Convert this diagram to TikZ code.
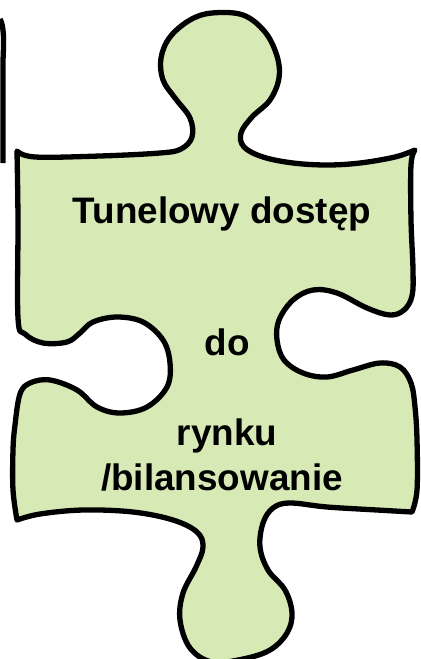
\documentclass[tikz,border=0pt]{standalone}
\usepackage{fontspec}
\setmainfont{Liberation Sans}
\definecolor{piecegreen}{RGB}{215,233,181}

\begin{document}
\begin{tikzpicture}[x=1bp, y=-1bp, line width=5.3bp, line join=round,
  piece/.style = {draw, fill=piecegreen},
  txt/.style = {anchor=base, inner sep=0pt, font=\bfseries\fontsize{37}{44}\selectfont}]
\useasboundingbox (0,0) rectangle (420,659);
% edge of the neighbouring piece
\draw (0,19) .. controls (4,26) and (4,40) .. (3,60) -- (3,163);
% the piece
\draw[piece] plot[smooth, tension=0.6] coordinates {(17,151) (35,157) (100,156) (160,153) (181,149)
    (192,137) (190,118) (175,98) (163,80) (161,58) (170,37) (190,20) (212,13) (243,15) (265,32)
    (277,56) (279,78) (270,100) (252,117) (241,133) (244,147) (263,157) (293,163) (327,165)
    (360,163) (395,157) (415,150)}
  -- plot[smooth, tension=0.6] coordinates {(415,150) (411,165) (411,220) (413,270) (412,296)
    (404,310) (390,315) (367,308) (337,293) (313,290) (293,300) (279,320) (277,340) (284,360)
    (303,373) (327,377) (353,370) (380,363) (400,367) (411,383) (415,407) (417,440) (417,490)
    (412,512)}
  -- plot[smooth, tension=0.6] coordinates {(412,512) (377,510) (327,507) (290,503) (273,508)
    (263,523) (260,547) (268,570) (285,590) (292,613) (287,633) (270,650) (243,659) (212,662)
    (190,648) (180,620) (183,593) (196,567) (203,547) (197,532) (173,520) (133,512) (83,510)
    (40,514) (17,520)}
  -- plot[smooth, tension=0.6] coordinates {(17,520) (13,490) (13,450) (15,425) (20,394)
    (30,383) (50,380) (77,390) (97,407) (120,413) (147,407) (167,387) (170,363) (163,340)
    (143,322) (117,317) (93,322) (80,333) (67,342) (43,343) (25,334) (18,318) (18,220) (17,151)}
  -- cycle;
% texts
\node[txt] (1) at (222,223) {Tunelowy dostęp};
\node[txt] (2) at (227,355) {do};
\node[txt] (3) at (227,445) {rynku};
\node[txt] (4) at (222,490) {/bilansowanie};
\end{tikzpicture}
\end{document}
